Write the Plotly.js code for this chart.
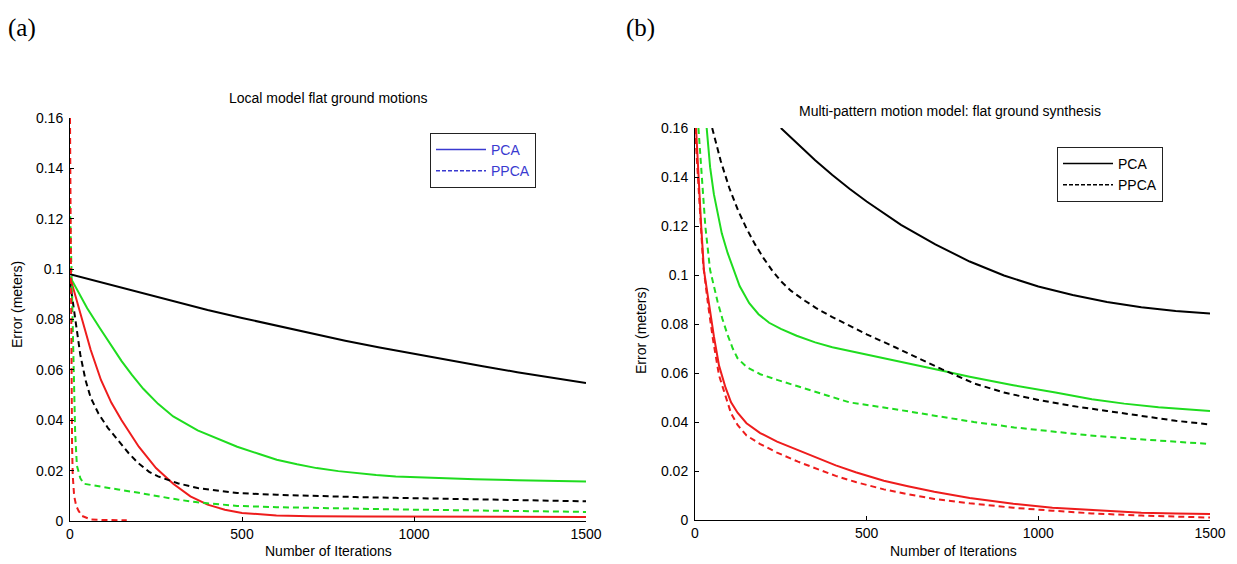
<!DOCTYPE html>
<html>
<head>
<meta charset="utf-8">
<script src="https://cdn.plot.ly/plotly-3.0.1.min.js"></script>
<style>html,body{margin:0;padding:0;background:#fff;}#chart{width:1237px;height:564px;}</style>
</head>
<body>
<div id="chart"></div>
<script>
// ---------- Data: panel (a) Local model flat ground motions ----------
const aBlackPcaX = [0,100,200,300,400,500,600,700,800,900,1000,1100,1200,1300,1400,1500];
const aBlackPcaY = [0.098,0.0945,0.0908,0.0872,0.0838,0.0806,0.0775,0.0745,0.0716,0.0689,0.0663,0.0638,0.0614,0.0591,0.0568,0.0548];

const aBlackPpcaX = [0,10,20,30,45,60,83,110,140,170,198,230,256,313,371,430,486,601,717,830,947,1062,1177,1300,1400,1500];
const aBlackPpcaY = [0.095,0.085,0.075,0.066,0.056,0.049,0.0426,0.037,0.032,0.027,0.023,0.0195,0.0177,0.015,0.0131,0.012,0.0111,0.0104,0.0098,0.0095,0.0092,0.0089,0.0086,0.0083,0.0081,0.0078];

const aGreenPcaX = [0,25,50,87,120,150,180,213,256,300,371,430,486,550,601,660,717,780,832,890,947,1062,1177,1300,1400,1500];
const aGreenPcaY = [0.097,0.0905,0.0845,0.0765,0.0695,0.0635,0.058,0.0525,0.0465,0.0415,0.036,0.0325,0.0295,0.0266,0.0243,0.0225,0.021,0.0198,0.019,0.0183,0.0177,0.017,0.0166,0.0162,0.016,0.0157];

const aRedPcaX = [0,30,60,90,120,150,200,250,300,350,400,450,500,600,700,850,1000,1200,1500];
const aRedPcaY = [0.097,0.082,0.068,0.056,0.047,0.04,0.0295,0.021,0.0148,0.0098,0.0065,0.0045,0.0032,0.0022,0.0019,0.0018,0.0017,0.0016,0.0016];

const aGreenPpcaX = [0,5,10,15,20,30,40,100,140,200,256,313,371,430,486,600,717,830,947,1062,1177,1300,1400,1500];
const aGreenPpcaY = [0.125,0.09,0.06,0.035,0.022,0.017,0.0148,0.0133,0.0125,0.0112,0.0098,0.0085,0.0074,0.0066,0.006,0.0055,0.0051,0.0048,0.0046,0.0044,0.0042,0.004,0.0038,0.0036];

const aRedPpcaX = [0,1,2,3,4,5,6,8,12,18,25,35,50,60,100,165];
const aRedPpcaY = [0.16,0.13,0.1,0.075,0.055,0.04,0.03,0.018,0.01,0.006,0.004,0.002,0.001,0.0006,0.0004,0.0003];

// ---------- Data: panel (b) Multi-pattern motion model ----------
const bBlackPcaX = [250,300,350,400,450,500,600,700,800,900,1000,1100,1200,1300,1400,1500];
const bBlackPcaY = [0.16,0.1532,0.1468,0.1408,0.1352,0.13,0.1205,0.1125,0.1055,0.0998,0.0953,0.0918,0.089,0.0868,0.0853,0.0843];

const bBlackPpcaX = [50,75,100,125,150,175,200,225,250,280,320,353,400,450,500,583,650,720,812,900,1000,1100,1200,1300,1400,1500];
const bBlackPpcaY = [0.16,0.1465,0.1355,0.1265,0.119,0.1125,0.1068,0.1018,0.0975,0.0935,0.0895,0.0865,0.0828,0.0792,0.0758,0.0705,0.066,0.0615,0.0558,0.052,0.049,0.0465,0.0445,0.0425,0.0405,0.039];

const bGreenPcaX = [34,44,55,67,78,95,112,130,158,185,216,250,296,350,400,468,550,620,697,800,927,1050,1156,1250,1350,1430,1500];
const bGreenPcaY = [0.16,0.144,0.133,0.124,0.117,0.109,0.102,0.0955,0.0885,0.084,0.0805,0.078,0.0752,0.0725,0.0705,0.0684,0.066,0.064,0.0616,0.0585,0.055,0.052,0.0493,0.0475,0.046,0.0452,0.0445];

const bGreenPpcaX = [10,20,30,44,55,66,80,95,110,124,150,190,239,300,353,450,583,700,812,930,1041,1150,1271,1400,1500];
const bGreenPpcaY = [0.16,0.14,0.12,0.102,0.095,0.089,0.082,0.0755,0.07,0.066,0.0625,0.0595,0.0572,0.0545,0.052,0.048,0.0452,0.0425,0.04,0.0378,0.036,0.0345,0.0332,0.032,0.031];

const bRedPcaX = [3,10,18,26,40,55,70,89,105,124,150,190,239,300,353,410,468,550,620,697,800,927,1041,1156,1300,1400,1500];
const bRedPcaY = [0.16,0.14,0.12,0.102,0.088,0.075,0.063,0.054,0.048,0.0438,0.0395,0.0355,0.032,0.0285,0.0255,0.0223,0.0195,0.016,0.0138,0.0115,0.009,0.0066,0.005,0.004,0.003,0.0027,0.0025];

const bRedPpcaX = [0,8,16,24,38,52,70,89,105,124,150,190,239,300,353,410,468,550,620,697,800,927,1041,1156,1300,1400,1500];
const bRedPpcaY = [0.16,0.14,0.12,0.104,0.088,0.074,0.059,0.05,0.0435,0.0388,0.0345,0.031,0.0275,0.0238,0.021,0.018,0.0155,0.0125,0.0105,0.0086,0.0068,0.005,0.0038,0.0027,0.0018,0.0013,0.001];

// ---------- Tick labels ----------
const yTickVals = [0,0.02,0.04,0.06,0.08,0.1,0.12,0.14,0.16];
const yTickText = ['0','0.02','0.04','0.06','0.08','0.1','0.12','0.14','0.16'];
const xTickVals = [0,500,1000,1500];
const xTickText = ['0','500','1000','1500'];
const legendNames = ['PCA','PPCA'];

// ---------- Styles ----------
const BLACK = '#000000', GREEN = '#1fdc1f', RED = '#ee1c1c', BLUE = '#3a3ad0';
const LW = 2;
const DASH = '6px,4px';
const FONT = 'Liberation Sans, Arial, sans-serif';

function line(x, y, color, dash, xa, ya) {
  return {x: x, y: y, type: 'scatter', mode: 'lines', xaxis: xa, yaxis: ya,
    line: {color: color, width: LW, dash: dash}, showlegend: false, hoverinfo: 'skip'};
}

const traces = [
  line(aBlackPcaX, aBlackPcaY, BLACK, 'solid', 'x', 'y'),
  line(aGreenPcaX, aGreenPcaY, GREEN, 'solid', 'x', 'y'),
  line(aRedPcaX, aRedPcaY, RED, 'solid', 'x', 'y'),
  line(aBlackPpcaX, aBlackPpcaY, BLACK, DASH, 'x', 'y'),
  line(aGreenPpcaX, aGreenPpcaY, GREEN, DASH, 'x', 'y'),
  line(aRedPpcaX, aRedPpcaY, RED, DASH, 'x', 'y'),
  line(bBlackPcaX, bBlackPcaY, BLACK, 'solid', 'x2', 'y2'),
  line(bGreenPcaX, bGreenPcaY, GREEN, 'solid', 'x2', 'y2'),
  line(bRedPcaX, bRedPcaY, RED, 'solid', 'x2', 'y2'),
  line(bBlackPpcaX, bBlackPpcaY, BLACK, DASH, 'x2', 'y2'),
  line(bGreenPpcaX, bGreenPpcaY, GREEN, DASH, 'x2', 'y2'),
  line(bRedPpcaX, bRedPpcaY, RED, DASH, 'x2', 'y2'),
  // legend entries
  {x: [null], y: [null], type: 'scatter', mode: 'lines', xaxis: 'x', yaxis: 'y', name: legendNames[0],
   line: {color: BLUE, width: 1.5}, legend: 'legend', showlegend: true},
  {x: [null], y: [null], type: 'scatter', mode: 'lines', xaxis: 'x', yaxis: 'y', name: legendNames[1],
   line: {color: BLUE, width: 1.5, dash: '4px,2px'}, legend: 'legend', showlegend: true},
  {x: [null], y: [null], type: 'scatter', mode: 'lines', xaxis: 'x2', yaxis: 'y2', name: legendNames[0],
   line: {color: BLACK, width: 1.5}, legend: 'legend2', showlegend: true},
  {x: [null], y: [null], type: 'scatter', mode: 'lines', xaxis: 'x2', yaxis: 'y2', name: legendNames[1],
   line: {color: BLACK, width: 1.5, dash: '4px,2px'}, legend: 'legend2', showlegend: true}
];

const W = 1237, H = 564;
const px = v => v / W, py = v => 1 - v / H;

function xAxis(dom, anchor) {
  return {domain: dom, anchor: anchor, range: [0, 1500], tickvals: xTickVals, ticktext: xTickText,
    ticks: 'inside', ticklen: 4, tickcolor: '#000', showline: true, linecolor: '#000', linewidth: 1,
    showgrid: false, zeroline: false, mirror: false, fixedrange: true,
    tickfont: {family: FONT, size: 14, color: '#000'}};
}
function yAxis(dom, anchor) {
  return {domain: dom, anchor: anchor, range: [0, 0.16], tickvals: yTickVals, ticktext: yTickText,
    ticks: 'inside', ticklen: 4, tickcolor: '#000', showline: true, linecolor: '#000', linewidth: 1,
    showgrid: false, zeroline: false, mirror: false, fixedrange: true, ticklabelstandoff: 3,
    tickfont: {family: FONT, size: 14, color: '#000'}};
}

const legendBase = {bgcolor: '#fff', bordercolor: '#222', borderwidth: 1, itemwidth: 50,
  xanchor: 'left', yanchor: 'top', tracegroupgap: 0, itemclick: false, itemdoubleclick: false};

function note(text, x, y, size, extra) {
  return Object.assign({text: text, x: px(x), y: py(y), xref: 'paper', yref: 'paper', showarrow: false,
    xanchor: 'center', yanchor: 'middle', font: {family: FONT, size: size, color: '#000'}}, extra || {});
}

const serif = {family: 'Liberation Serif, Times New Roman, serif', size: 25, color: '#000'};

const layout = {
  width: W, height: H,
  margin: {l: 0, r: 0, t: 0, b: 0},
  paper_bgcolor: '#fff', plot_bgcolor: '#fff',
  xaxis: xAxis([px(70), px(586)], 'y'),
  yaxis: yAxis([py(521), py(118)], 'x'),
  xaxis2: xAxis([px(695), px(1210)], 'y2'),
  yaxis2: yAxis([py(520), py(128)], 'x2'),
  legend: Object.assign({}, legendBase, {x: px(430), y: py(133),
    font: {family: FONT, size: 14, color: BLUE}}),
  legend2: Object.assign({}, legendBase, {x: px(1057), y: py(147),
    font: {family: FONT, size: 14, color: '#000'}}),
  showlegend: true,
  annotations: [
    note('(a)', 22, 28, 25, {font: serif}),
    note('(b)', 641, 28, 25, {font: serif}),
    note('Local model flat ground motions', 328, 98, 14),
    note('Multi-pattern motion model: flat ground synthesis', 950, 111, 14),
    note('Error (meters)', 17, 305, 14, {textangle: -90}),
    note('Error (meters)', 641, 330, 14, {textangle: -90}),
    note('Number of Iterations', 328, 551, 14),
    note('Number of Iterations', 953, 551, 14)
  ]
};

Plotly.newPlot('chart', traces, layout, {staticPlot: true, displayModeBar: false});
</script>
</body>
</html>
